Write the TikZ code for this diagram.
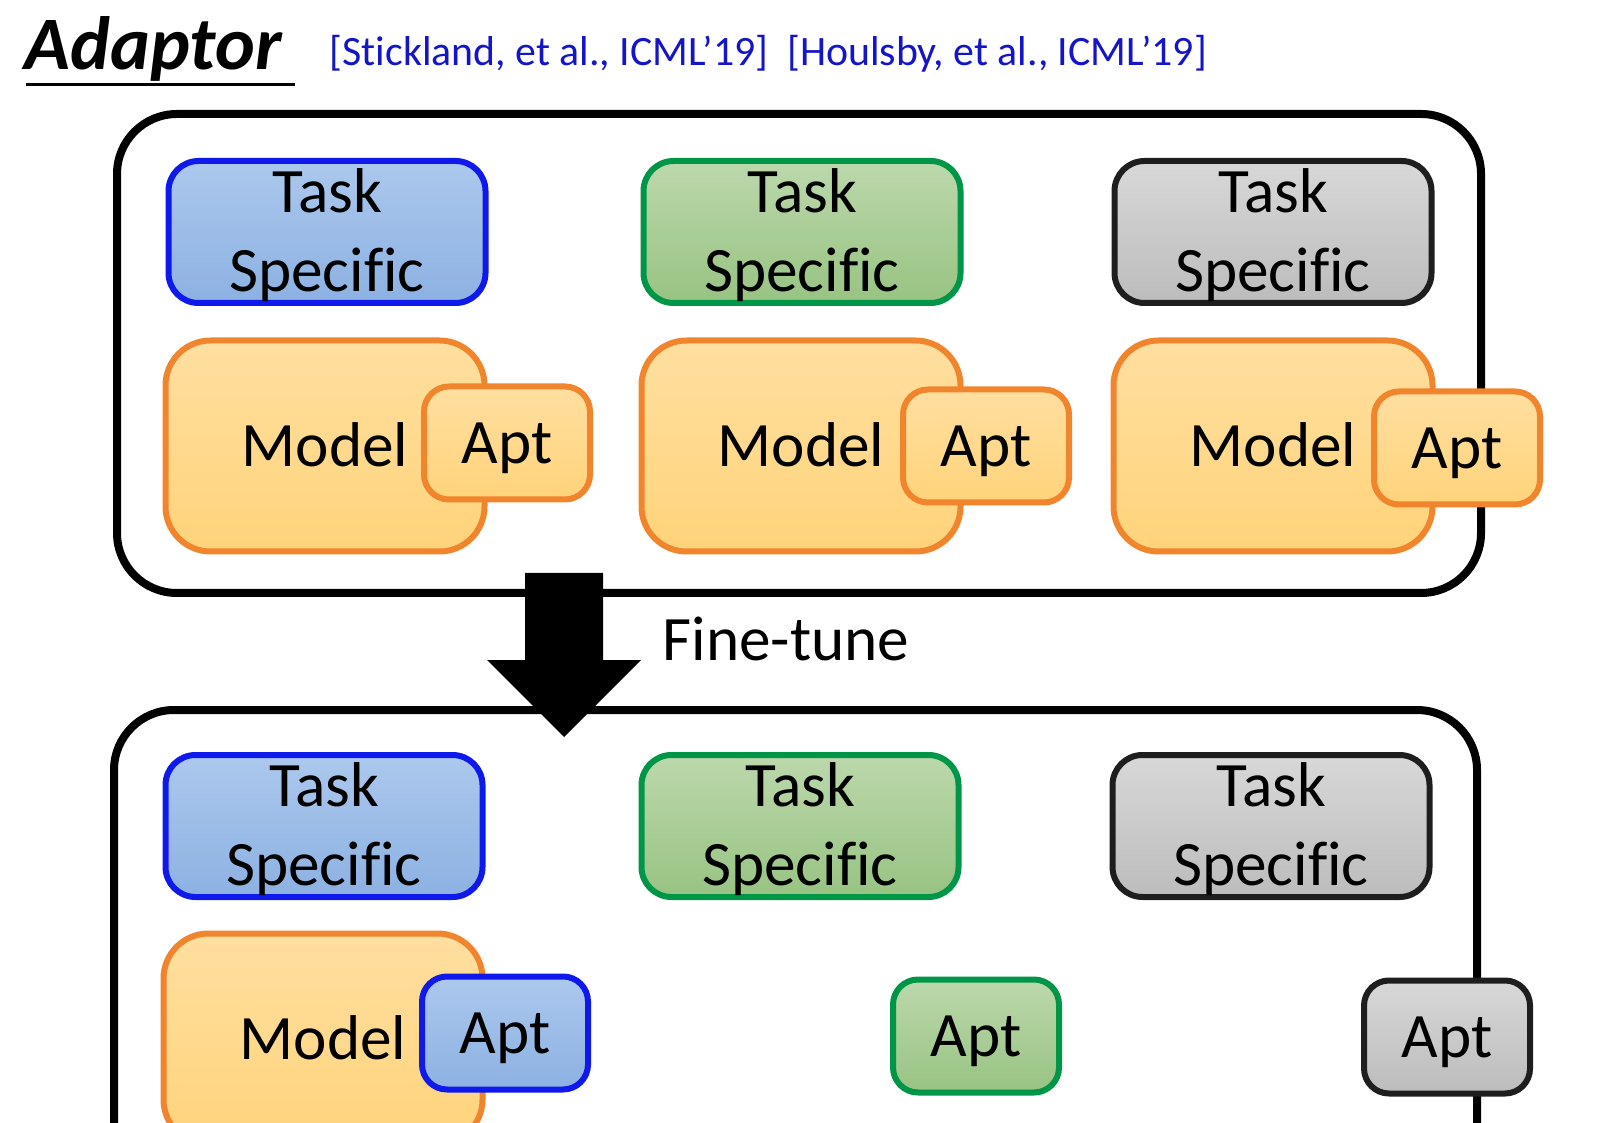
\documentclass[tikz,border=0pt]{standalone}
\usepackage{fontspec}
\setmainfont{Carlito}[Ligatures={TeX,NoCommon}]

\definecolor{edgeblue}{RGB}{15,25,235}
\definecolor{blueA}{RGB}{172,200,237}
\definecolor{blueB}{RGB}{140,177,226}
\definecolor{edgegreen}{RGB}{0,150,72}
\definecolor{greenA}{RGB}{188,216,172}
\definecolor{greenB}{RGB}{152,195,130}
\definecolor{edgegray}{RGB}{30,30,30}
\definecolor{grayA}{RGB}{216,216,216}
\definecolor{grayB}{RGB}{188,188,188}
\definecolor{edgeorange}{RGB}{240,133,45}
\definecolor{orangeA}{RGB}{255,223,160}
\definecolor{orangeB}{RGB}{255,211,122}
\definecolor{citeblue}{RGB}{20,20,200}

\tikzset{card/.style  = {rounded corners = #1, line width = 0.6mm, align = center,
                         inner sep = 0pt, font = \fontsize{18}{22.5}\selectfont},
         card/.default = 3mm,
         bluecard/.style   = {draw = edgeblue, top color = blueA, bottom color = blueB},
         greencard/.style  = {draw = edgegreen, top color = greenA, bottom color = greenB},
         graycard/.style   = {draw = edgegray, top color = grayA, bottom color = grayB},
         orangecard/.style = {draw = edgeorange, top color = orangeA, bottom color = orangeB},
         task/.style  = {card, minimum width = 31.7mm, minimum height = 14.2mm,
                         text height = 34.1pt, text depth = 0pt},
         model/.style = {card = 4.5mm, orangecard, minimum width = 31.9mm, minimum height = 21.1mm,
                         text height = 11.6pt, text depth = 0pt},
         apt/.style   = {card = 2.5mm, minimum width = 16.6mm, minimum height = 11.3mm,
                         text height = 11.6pt, text depth = 0pt},
         frame/.style = {line width = 0.8mm, rounded corners = 6mm}
        }

\begin{document}
\begin{tikzpicture}[x=0.1mm, y=-0.1mm]
  \clip (0,0) rectangle (1622,1123);

  % heading
  \node[anchor = base west, inner sep = 0pt, font = \fontsize{21.5}{26}\selectfont\bfseries\itshape]
       (title) at (24,70) {Adaptor};
  \draw[line width = 0.3mm] (26,85) -- (295,85);
  \node[anchor = base west, inner sep = 0pt, text = citeblue, font = \fontsize{11.9}{14}\selectfont]
       (cite) at (329,66) {[Stickland, et al., ICML’19]\ \ [Houlsby, et al., ICML’19]};

  % frames and arrow
  \draw[frame] (117,114) rectangle (1481,593);
  \draw[frame] (114,1180) |- (1477,710) -- (1477,1180);
  \fill (525,573) -- (603,573) -- (603,660) -- (641,660) -- (564,737) -- (487,660) -- (525,660) -- cycle;
  \node[anchor = base west, inner sep = 0pt, font = \fontsize{18}{22}\selectfont]
       (tune) at (662,660) {Fine-tune};

  % before
  \node[task, bluecard]  (spec1) at (327,232)  {Task\\Specific};
  \node[task, greencard] (spec2) at (802,232)  {Task\\Specific};
  \node[task, graycard]  (spec3) at (1273,232) {Task\\Specific};
  \node[model] (model1) at (325,446)  {Model};
  \node[model] (model2) at (801,446)  {Model};
  \node[model] (model3) at (1273,446) {Model};
  \node[apt, orangecard] (apt1) at (507,443)  {Apt};
  \node[apt, orangecard] (apt2) at (986,446)  {Apt};
  \node[apt, orangecard] (apt3) at (1457,448) {Apt};

  % after
  \node[task, bluecard]  (fspec1) at (324,826)  {Task\\Specific};
  \node[task, greencard] (fspec2) at (800,826)  {Task\\Specific};
  \node[task, graycard]  (fspec3) at (1271,826) {Task\\Specific};
  \node[model] (fmodel1) at (323,1039) {Model};
  \node[apt, bluecard]  (fapt1) at (505,1033)  {Apt};
  \node[apt, greencard] (fapt2) at (976,1036)  {Apt};
  \node[apt, graycard]  (fapt3) at (1447,1037) {Apt};
\end{tikzpicture}
\end{document}
